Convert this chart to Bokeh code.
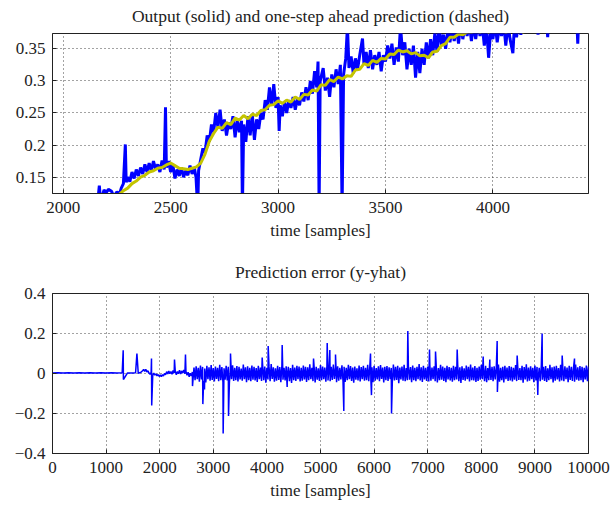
import numpy as np
from bokeh.plotting import figure
from bokeh.layouts import column
from bokeh.models import Range1d, FixedTicker
from bokeh.embed import file_html
from bokeh.resources import INLINE

# ---------------- texts ----------------
top_title = "Output (solid) and one-step ahead prediction (dashed)"
bottom_title = "Prediction error (y-yhat)"
x_label = "time [samples]"

# ---------------- data: top panel (output & one-step-ahead prediction) ----------------
top_xticks = [2000, 2500, 3000, 3500, 4000]
top_xtick_labels = ["2000", "2500", "3000", "3500", "4000"]
top_yticks = [0.15, 0.2, 0.25, 0.3, 0.35]
top_ytick_labels = ["0.15", "0.2", "0.25", "0.3", "0.35"]

output_time = [
    2100, 2160, 2168, 2174, 2190, 2200, 2210, 2225, 2235, 2250, 2262, 2270, 2280, 2289, 2293,
    2300, 2310, 2320, 2330, 2340, 2350, 2360, 2370, 2380, 2390, 2400, 2410, 2420, 2430, 2440,
    2450, 2460, 2470, 2476, 2480, 2490, 2500, 2510, 2520, 2530, 2540, 2550, 2560, 2570, 2580,
    2590, 2600, 2610, 2618, 2626, 2630, 2640, 2650, 2660, 2670, 2680, 2690, 2700, 2710, 2720,
    2730, 2740, 2750, 2760, 2770, 2780, 2790, 2800, 2810, 2820, 2830, 2834, 2840, 2850, 2860,
    2870, 2880, 2890, 2900, 2910, 2920, 2930, 2940, 2950, 2960, 2970, 2980, 2990, 3000, 3005,
    3010, 3020, 3030, 3040, 3050, 3060, 3070, 3080, 3090, 3100, 3110, 3120, 3130, 3140, 3150,
    3160, 3170, 3180, 3186, 3191, 3196, 3210, 3220, 3230, 3240, 3250, 3260, 3270, 3280, 3290,
    3298, 3305, 3315, 3323, 3330, 3340, 3350, 3360, 3370, 3380, 3393, 3400, 3410, 3420, 3430,
    3440, 3450, 3460, 3470, 3480, 3490, 3500, 3510, 3520, 3530, 3540, 3550, 3560, 3570, 3580,
    3590, 3600, 3610, 3620, 3630, 3640, 3650, 3660, 3670, 3680, 3690, 3700, 3710, 3720, 3730,
    3740, 3750, 3760, 3770, 3780, 3790, 3800, 3810, 3820, 3830, 3840, 3850, 3860, 3870, 3880,
    3890, 3900, 3910, 3920, 3930, 3940, 3950, 3960, 3970, 3980, 3990, 4000, 4010, 4020, 4030,
    4040, 4050, 4060, 4070, 4080, 4093, 4100, 4110, 4120, 4130, 4140, 4150, 4160, 4170, 4180,
    4190, 4200, 4210, 4220, 4250, 4255, 4260, 4300, 4390, 4395, 4400, 4445,
]
output_value = [
    0.105, 0.110, 0.137, 0.112, 0.130, 0.126, 0.131, 0.128, 0.120, 0.127, 0.124, 0.133, 0.140, 0.201, 0.142,
    0.150, 0.143, 0.158, 0.148, 0.162, 0.152, 0.165, 0.155, 0.170, 0.158, 0.172, 0.160, 0.175, 0.163, 0.170,
    0.158, 0.176, 0.162, 0.259, 0.165, 0.175, 0.158, 0.170, 0.148, 0.162, 0.152, 0.165, 0.150, 0.160, 0.153,
    0.168, 0.155, 0.165, 0.150, 0.100, 0.160, 0.178, 0.195, 0.188, 0.215, 0.205, 0.232, 0.220, 0.250, 0.228,
    0.255, 0.222, 0.240, 0.215, 0.235, 0.225, 0.245, 0.212, 0.240, 0.220, 0.238, 0.100, 0.232, 0.205, 0.245,
    0.215, 0.248, 0.208, 0.240, 0.225, 0.250, 0.240, 0.270, 0.255, 0.290, 0.262, 0.295, 0.258, 0.275, 0.222,
    0.262, 0.245, 0.268, 0.250, 0.270, 0.258, 0.275, 0.255, 0.272, 0.262, 0.282, 0.268, 0.290, 0.270, 0.300,
    0.280, 0.315, 0.290, 0.330, 0.100, 0.300, 0.320, 0.285, 0.305, 0.275, 0.310, 0.290, 0.318, 0.295, 0.325,
    0.100, 0.310, 0.335, 0.385, 0.320, 0.338, 0.312, 0.335, 0.318, 0.340, 0.366, 0.325, 0.345, 0.320, 0.348,
    0.318, 0.340, 0.325, 0.345, 0.315, 0.340, 0.330, 0.355, 0.335, 0.358, 0.325, 0.352, 0.330, 0.385, 0.340,
    0.360, 0.318, 0.350, 0.325, 0.355, 0.305, 0.345, 0.312, 0.350, 0.325, 0.360, 0.335, 0.365, 0.340, 0.375,
    0.345, 0.385, 0.355, 0.372, 0.350, 0.380, 0.360, 0.382, 0.362, 0.385, 0.358, 0.390, 0.365, 0.385, 0.370,
    0.390, 0.362, 0.388, 0.365, 0.390, 0.370, 0.388, 0.355, 0.385, 0.336, 0.380, 0.365, 0.390, 0.360, 0.385,
    0.370, 0.390, 0.355, 0.388, 0.365, 0.343, 0.385, 0.368, 0.392, 0.372, 0.390, 0.375, 0.395, 0.378, 0.392,
    0.376, 0.395, 0.372, 0.395, 0.395, 0.368, 0.395, 0.400, 0.400, 0.358, 0.400, 0.400,
]

prediction_value = [
    0.118, 0.123, 0.129, 0.133, 0.140, 0.144, 0.150, 0.153, 0.158, 0.160, 0.164, 0.165, 0.169, 0.172,
    0.168, 0.164, 0.163, 0.162, 0.164, 0.166, 0.172, 0.186, 0.206, 0.218, 0.228, 0.226, 0.235, 0.232,
    0.242, 0.239, 0.246, 0.241, 0.248, 0.246, 0.254, 0.255, 0.262, 0.263, 0.269, 0.265, 0.270, 0.267,
    0.275, 0.271, 0.279, 0.278, 0.286, 0.284, 0.294, 0.293, 0.302, 0.299, 0.306, 0.303, 0.308, 0.307,
    0.317, 0.318, 0.327, 0.324, 0.332, 0.329, 0.335, 0.334, 0.342, 0.341, 0.348, 0.345, 0.347, 0.342,
    0.344, 0.339, 0.340, 0.336, 0.345, 0.346, 0.355, 0.358, 0.368, 0.368, 0.373, 0.372, 0.376, 0.376,
    0.378, 0.376, 0.379, 0.376, 0.379, 0.377, 0.379, 0.376, 0.378, 0.377, 0.379, 0.376, 0.379, 0.377,
    0.380, 0.385, 0.385, 0.385, 0.385, 0.385, 0.385, 0.385, 0.385, 0.385, 0.385, 0.385, 0.385,
]
prediction_start, prediction_step = 2240, 20

# ---------------- data: bottom panel (prediction error) ----------------
bottom_xticks = [0, 1000, 2000, 3000, 4000, 5000, 6000, 7000, 8000, 9000, 10000]
bottom_xtick_labels = ["0", "1000", "2000", "3000", "4000", "5000", "6000", "7000", "8000", "9000", "10000"]
bottom_yticks = [-0.4, -0.2, 0.0, 0.2, 0.4]
bottom_ytick_labels = ["\u22120.4", "\u22120.2", "0", "0.2", "0.4"]

error_early_time = [
    0, 100, 200, 300, 400, 500, 600, 700, 800, 900, 1000, 1100, 1200, 1300, 1400, 1500, 1550, 1600,
    1650, 1680, 1700, 1720, 1740, 1760, 1780, 1800, 1820, 1840, 1870, 1890, 1910, 1930, 1950, 1970,
    1990, 2010, 2030, 2050, 2070, 2090, 2110, 2130, 2150, 2170, 2190, 2210, 2230, 2250, 2270, 2290,
    2310, 2330, 2350, 2370, 2390, 2410, 2430, 2450, 2470, 2490, 2510, 2530, 2550, 2570, 2590, 2610, 2625,
]
error_early_milli = [
    3, 4, 2, 4, 3, 4, 2, 4, 3, 4, 3, 4, 3, 4, 3, 2, 4, 1,
    6, 14, 20, 11, 21, 8, 14, 2, -4, 6, -10, 2, -8, -2, -12, -5,
    -15, -7, -16, -6, -12, 0, -6, 9, -2, 12, -1, 10, -4, 15, 2, 12,
    -6, 10, -1, 16, -3, 13, 2, 18, -1, 10, -9, 6, -16, 1, -12, 8, -20,
]

# upper and lower swings of the dense noise band (thousandths), 2640..10000
error_upper_milli = [
    30, 36, 28, 40, 33, 25, 38, 31, 42, 27, 35, 29, 44, 32, 26, 39, 34, 30, 41, 28,
    37, 33, 25, 45, 31, 36, 29, 40, 34, 27, 38, 30, 43, 35, 28, 33, 47, 31, 26, 39,
    32, 41, 29, 36, 34, 27, 44, 30, 38, 35, 28, 40, 33, 31, 46, 29, 37, 34, 26, 42,
    35, 30, 39, 27, 33, 45, 31, 36, 29, 41, 34, 28, 43, 37, 30, 35, 26, 40, 32, 38,
    29, 44, 33, 31, 39, 27, 36, 42, 30, 34, 37, 31, 28, 45, 33, 39, 30, 35, 43, 27,
    36, 32, 40, 29, 34, 47, 31, 38, 28, 35, 41, 30, 36, 33, 27, 44, 35, 29, 39, 32,
    28, 38, 34, 42, 31, 36, 26, 40, 33, 45, 30, 37, 29, 35, 43, 32, 38, 27, 41, 34,
    36, 31, 45, 28, 34, 39, 30, 37, 33, 29, 42, 35, 27, 38, 32, 46, 30, 36, 28, 40,
    33, 29, 41, 34, 37, 26, 44, 31, 35, 38, 27, 43, 32, 36, 30, 39, 34, 28, 45, 31,
    37, 33, 29, 40, 35,
]
error_lower_milli = [
    -34, -28, -41, -30, -37, -45, -29, -36, -32, -40, -27, -38, -33, -43, -31, -35, -48, -29, -37, -34,
    -40, -30, -36, -28, -44, -33, -39, -31, -35, -42, -29, -37, -34, -46, -30, -38, -27, -41, -36, -32,
    -43, -31, -35, -29, -39, -47, -33, -37, -28, -40, -36, -30, -42, -34, -28, -38, -45, -31, -37, -33,
    -29, -41, -35, -39, -32, -27, -44, -36, -30, -38, -42, -33, -29, -37, -46, -31, -35, -40, -28, -36,
    -34, -39, -31, -43, -36, -30, -38, -27, -45, -33, -37, -29, -41, -35, -32, -48, -30, -36, -39, -34,
    -31, -44, -33, -38, -29, -35, -42, -30, -37, -40, -36, -28, -39, -45, -33, -31, -37, -43, -30, -35,
    -41, -34, -30, -38, -47, -32, -36, -29, -40, -33, -35, -42, -37, -31, -28, -39, -44, -34, -32, -38,
    -30, -36, -41, -33, -45, -29, -37, -35, -40, -31, -38, -32, -34, -46, -30, -40, -36, -28, -43, -35,
    -33, -39, -31, -37, -42, -34, -29, -45, -36, -30, -40, -35, -38, -29, -44, -32, -37, -41, -31, -36,
    -34, -43, -30, -38, -39,
]
error_noise_start, error_noise_end = 2640, 10000

error_spike_time = [
    1319, 1323, 1575, 1847, 1851, 2276, 2481, 2612, 2805, 2836, 3184, 3284, 3321, 3912, 4024,
    4285, 4378, 4870, 5125, 5174, 5280, 5435, 5933, 5951, 6325, 6629, 7034, 7146, 7550, 8035,
    8159, 8296, 8300, 8669, 9054, 9135, 9509, 9739,
]
error_spike_value = [
    0.116, -0.030, 0.100, 0.075, -0.160, 0.070, 0.095, -0.063, -0.153, -0.080, -0.300, -0.213, 0.100, 0.080, 0.137,
    0.142, -0.067, 0.075, 0.153, 0.117, 0.095, -0.187, 0.100, -0.108, -0.200, 0.212, 0.120, 0.110, 0.120, 0.085,
    0.070, 0.163, -0.092, 0.090, -0.108, 0.200, 0.090, 0.075,
]

# ---------------- styling ----------------
FONT = "'Liberation Serif', 'DejaVu Serif', serif"
FS = "17px"
TITLE_FS = "17.5px"
INK = "#222222"
BLUE = "#0000ff"
YELLOW = "#c4c400"


def style(p, xticks, xlabels, yticks, ylabels, title_standoff):
    p.title.text_font = FONT
    p.title.text_font_size = TITLE_FS
    p.title.text_font_style = "normal"
    p.title.align = "center"
    p.title.vertical_align = "top"
    p.title.standoff = title_standoff
    p.title.text_color = INK
    p.outline_line_color = INK
    p.outline_line_width = 1
    xa = p.below[0]
    ya = p.left[0]
    xa.ticker = FixedTicker(ticks=xticks)
    ya.ticker = FixedTicker(ticks=yticks)
    xa.major_label_overrides = {t: l for t, l in zip(xticks, xlabels)}
    ya.major_label_overrides = {t: l for t, l in zip(yticks, ylabels)}
    for ax in (xa, ya):
        ax.major_label_text_font = FONT
        ax.major_label_text_font_size = FS
        ax.major_label_text_color = INK
        ax.axis_label_text_font = FONT
        ax.axis_label_text_font_size = FS
        ax.axis_label_text_font_style = "normal"
        ax.axis_label_text_color = INK
        ax.major_tick_in = 4
        ax.major_tick_out = 0
        ax.minor_tick_line_color = None
        ax.axis_line_color = INK
        ax.major_tick_line_color = INK
    xa.major_label_standoff = 8
    ya.major_label_standoff = 7
    xa.axis_label = x_label
    xa.axis_label_standoff = 5
    for g in (p.xgrid[0], p.ygrid[0]):
        g.grid_line_color = "#333333"
        g.grid_line_dash = "1 3"
        g.grid_line_width = 1
        g.grid_line_alpha = 0.9


# ---------------- top figure ----------------
p1 = figure(width=616, height=250, x_range=Range1d(1950, 4445), y_range=Range1d(0.1246, 0.3738),
            output_backend="svg", toolbar_location=None, title=top_title,
            min_border_left=52, min_border_right=28, min_border_top=33, min_border_bottom=57)
style(p1, top_xticks, top_xtick_labels, top_yticks, top_ytick_labels, 11)

p1.line(output_time, output_value, line_color=BLUE, line_width=3)
pred_time = prediction_start + prediction_step * np.arange(len(prediction_value))
p1.line(pred_time, prediction_value, line_color=YELLOW, line_width=3)

# ---------------- bottom figure ----------------
p2 = figure(width=616, height=256, x_range=Range1d(0, 10000), y_range=Range1d(-0.4, 0.4),
            output_backend="svg", toolbar_location=None, title=bottom_title,
            min_border_left=52, min_border_right=28, min_border_top=43, min_border_bottom=53)
style(p2, bottom_xticks, bottom_xtick_labels, bottom_yticks, bottom_ytick_labels, 20)

upper_time = np.linspace(error_noise_start, error_noise_end, len(error_upper_milli))
half_step = (upper_time[1] - upper_time[0]) / 2
lower_time = upper_time + half_step
all_t = np.concatenate([np.array(error_early_time, float), upper_time, lower_time,
                        np.array(error_spike_time, float)])
all_v = np.concatenate([np.array(error_early_milli) / 1000.0, np.array(error_upper_milli) / 1000.0,
                        np.array(error_lower_milli) / 1000.0, np.array(error_spike_value)])
order = np.argsort(all_t, kind="stable")
p2.line(all_t[order], all_v[order], line_color=BLUE, line_width=1.5)

layout = column(p1, p2, spacing=0)
open("out.html", "w").write(file_html(layout, INLINE))
